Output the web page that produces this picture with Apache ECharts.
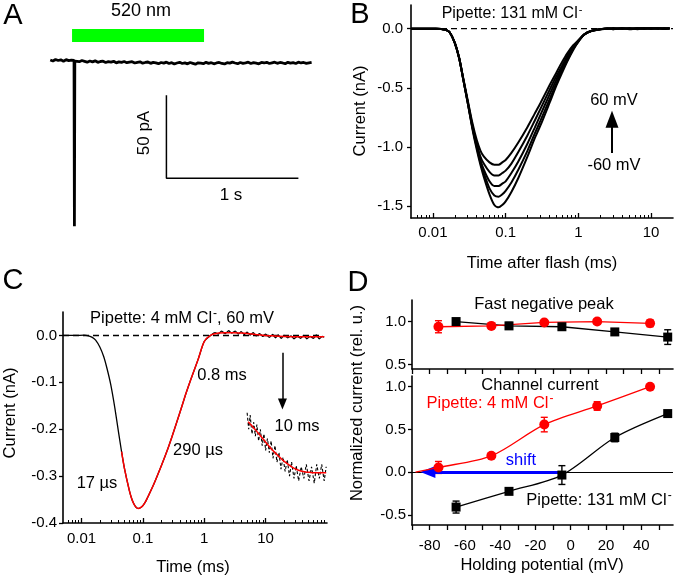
<!DOCTYPE html>
<html><head><meta charset="utf-8">
<script src="https://cdn.jsdelivr.net/npm/echarts@6/dist/echarts.min.js"></script>
<style>html,body{margin:0;padding:0;background:#fff}#c{width:677px;height:577px}</style>
</head><body><div id="c"></div>
<script>
// ---------- Panel A ----------
const aTime = [-0.18,-0.16,-0.14,-0.12,-0.10,-0.08,-0.06,-0.04,-0.02,0,0.003,0.006,
 0.02,0.04,0.06,0.08,0.10,0.12,0.14,0.16,0.18,0.20,
 0.22,0.24,0.26,0.28,0.30,0.32,0.34,0.36,0.38,0.40,
 0.42,0.44,0.46,0.48,0.50,0.52,0.54,0.56,0.58,0.60,
 0.62,0.64,0.66,0.68,0.70,0.72,0.74,0.76,0.78,0.80,
 0.82,0.84,0.86,0.88,0.90,0.92,0.94,0.96,0.98,1.00,
 1.02,1.04,1.06,1.08,1.10,1.12,1.14,1.16,1.18,1.20,
 1.22,1.24,1.26,1.28,1.30,1.32,1.34,1.36,1.38,1.40,
 1.42,1.44,1.46,1.48,1.50,1.52,1.54,1.56,1.58,1.60,
 1.62,1.64,1.66,1.68,1.70,1.72,1.74,1.76,1.78,1.80];
const aCurrent = [1.2,0.6,1.5,0.9,1.3,0.5,1.4,0.8,1.1,1.0,-99,0.5,
 0.8,0.2,0.9,0.4,-0.1,0.6,0.1,0.7,-0.2,0.3,
 0.5,-0.3,0.2,-0.1,0.4,-0.5,0.1,-0.2,0.3,-0.4,
 -0.1,0.2,-0.6,-0.2,0.1,-0.7,-0.3,0.0,-0.8,-0.2,
 -0.5,-1.0,-0.3,-0.7,-0.1,-0.9,-0.4,-1.2,-0.6,-0.2,
 -0.9,-0.5,-1.1,-0.3,-0.8,-1.3,-0.5,-0.7,-1.0,-0.2,
 -0.8,-0.4,-1.1,-0.6,-0.3,-0.9,-1.2,-0.4,-0.7,-0.1,
 -0.6,-1.0,-0.3,-0.8,-0.5,-0.1,-0.9,-0.4,-0.7,-1.1,
 -0.3,-0.6,-0.2,-0.9,-0.5,-0.1,-0.8,-0.3,-0.6,-1.0,
 -0.2,-0.7,-0.4,-0.9,-0.1,-0.6,-0.3,-0.8,-0.5,-0.2];
const aLightTime = [-0.015, 0.985];
const aLightLevel = [16, 16];
const aScaleX = [0.7, 0.7, 1.7];
const aScaleY = [-20, -70, -70];

// ---------- Panel B ----------
const bTime = [0.005,0.008,0.011,0.013,0.015,0.017,0.02,0.023,0.026,0.03,0.035,0.04,0.045,0.05,0.06,0.07,0.08,0.09,0.1,0.12,0.15,0.2,0.25,0.3,0.4,0.5,0.6,0.7,0.85,1.0,1.2,1.5,2,2.5,3,4,5,6.5,8,10,12.5,15,18];
const bTraceP60 = [0,0,0,-0.003,-0.01,-0.03,-0.12,-0.25,-0.41,-0.6,-0.8,-0.94,-1.03,-1.08,-1.13,-1.15,-1.15,-1.13,-1.11,-1.05,-0.96,-0.83,-0.72,-0.63,-0.48,-0.37,-0.28,-0.21,-0.14,-0.1,-0.05,-0.02,-0.005,0.003,-0.004,0.004,-0.002,0.005,-0.003,0.004,0.0,0.005,0.002];
const bTraceP30 = [0,0,0,-0.003,-0.01,-0.03,-0.12,-0.25,-0.42,-0.61,-0.82,-0.97,-1.08,-1.14,-1.21,-1.24,-1.24,-1.22,-1.2,-1.14,-1.04,-0.9,-0.78,-0.68,-0.52,-0.4,-0.31,-0.23,-0.15,-0.1,-0.05,-0.02,-0.005,-0.002,0.004,-0.003,0.005,-0.002,0.004,-0.003,0.005,0.001,0.004];
const bTrace0 = [0,0,0,-0.003,-0.01,-0.03,-0.12,-0.25,-0.42,-0.62,-0.83,-0.99,-1.11,-1.19,-1.29,-1.33,-1.33,-1.31,-1.29,-1.22,-1.12,-0.97,-0.84,-0.73,-0.56,-0.43,-0.33,-0.25,-0.16,-0.1,-0.05,-0.02,-0.005,0.004,-0.003,0.005,-0.004,0.003,0.006,-0.002,0.003,-0.003,0.004];
const bTraceM30 = [0,0,0,-0.003,-0.01,-0.03,-0.12,-0.25,-0.42,-0.62,-0.84,-1.0,-1.13,-1.22,-1.35,-1.41,-1.42,-1.4,-1.37,-1.3,-1.19,-1.03,-0.89,-0.78,-0.6,-0.46,-0.35,-0.27,-0.17,-0.11,-0.05,-0.02,-0.005,-0.003,0.005,-0.002,0.004,-0.004,0.003,0.005,-0.002,0.004,0.0];
const bTraceM60 = [0,0,0,-0.003,-0.01,-0.03,-0.12,-0.25,-0.42,-0.62,-0.85,-1.02,-1.15,-1.25,-1.4,-1.49,-1.51,-1.49,-1.46,-1.38,-1.26,-1.08,-0.93,-0.82,-0.63,-0.48,-0.37,-0.28,-0.18,-0.11,-0.05,-0.02,-0.005,0.002,-0.004,0.004,-0.003,0.005,-0.002,0.003,0.006,-0.002,0.003];
const bXTicks = [0.01, 0.1, 1, 10];
const bXMinor = [0.006,0.007,0.008,0.009,0.02,0.03,0.04,0.05,0.06,0.07,0.08,0.09,0.2,0.3,0.4,0.5,0.6,0.7,0.8,0.9,2,3,4,5,6,7,8,9];
const bYTicks = [-1.5, -1.0, -0.5, 0.0];

// ---------- Panel C ----------
const cTime = [0.005,0.008,0.011,0.013,0.015,0.017,0.02,0.023,0.026,0.03,0.035,0.04,0.045,0.05,0.06,0.065,0.07,0.075,0.08,0.085,0.09,0.1,0.11,0.12,0.15,0.2,0.25,0.3,0.4,0.5,0.6,0.8,1.0,1.3,1.5,1.7,1.9,2.2,2.5,2.8,3.2,3.6,4,4.5,5,5.6,6.3,7,8,9,10,11.5,13,14.5,16,18,20,23,26,29,33,37,42,47,53,60,67,75,84,90];
const cCurrent = [0,0,0.0005,-0.001,-0.004,-0.01,-0.025,-0.045,-0.07,-0.105,-0.155,-0.205,-0.248,-0.283,-0.33,-0.346,-0.357,-0.364,-0.368,-0.369,-0.368,-0.363,-0.355,-0.345,-0.318,-0.278,-0.245,-0.215,-0.165,-0.125,-0.095,-0.05,-0.013,0.001,0.006,0.003,0.009,0.004,0.01,0.005,0.009,0.003,0.008,0.002,0.007,0.001,0.006,-0.001,0.004,-0.002,0.003,-0.004,0.002,-0.005,0.001,-0.006,0.0,-0.005,-0.001,-0.007,-0.002,-0.006,0.0,-0.007,-0.002,-0.006,0.001,-0.007,-0.002,-0.004];
const cFitTime = [0.045,0.05,0.06,0.065,0.07,0.075,0.08,0.085,0.09,0.1,0.11,0.12,0.15,0.2,0.25,0.3,0.4,0.5,0.6,0.8,1.0,1.3,1.7,2.2,3,4,5,7,10,14,20,30,45,65,90];
const cFitCurrent = [-0.248,-0.283,-0.33,-0.346,-0.357,-0.364,-0.368,-0.369,-0.368,-0.363,-0.355,-0.345,-0.318,-0.278,-0.245,-0.215,-0.165,-0.125,-0.095,-0.05,-0.013,0.001,0.005,0.006,0.006,0.005,0.004,0.002,0.0,-0.001,-0.002,-0.003,-0.003,-0.003,-0.003];
const cInsetTime = [5.0,5.3,5.6,6.0,6.4,6.8,7.2,7.7,8.2,8.8,9.4,10,10.7,11.5,12.3,13.2,14.2,15.3,16.5,17.8,19.2,20.8,22.5,24.5,26.5,29,31.5,34.5,38,42,46,51,56,62,68,75,82,90,97];
const cInsetCurrent = [-0.165,-0.2,-0.17,-0.21,-0.185,-0.215,-0.19,-0.225,-0.2,-0.235,-0.21,-0.245,-0.22,-0.25,-0.225,-0.262,-0.235,-0.27,-0.25,-0.285,-0.26,-0.29,-0.265,-0.3,-0.27,-0.305,-0.278,-0.31,-0.28,-0.305,-0.275,-0.31,-0.28,-0.315,-0.275,-0.305,-0.275,-0.31,-0.28];
const cInsetFitTime = [5.2,6,7,8,9.4,11,13,15.6,19,22.8,27,32,37.5,45,52,61,72,85,97];
const cInsetFitCurrent = [-0.184,-0.193,-0.203,-0.212,-0.223,-0.234,-0.245,-0.255,-0.266,-0.274,-0.281,-0.286,-0.289,-0.291,-0.292,-0.293,-0.293,-0.293,-0.293];
const cXTicks = [0.01, 0.1, 1, 10];
const cXMinor = [0.006,0.007,0.008,0.009,0.02,0.03,0.04,0.05,0.06,0.07,0.08,0.09,0.2,0.3,0.4,0.5,0.6,0.7,0.8,0.9,2,3,4,5,6,7,8,9,20,30,40,50,60,70,80,90];
const cYTicks = [-0.4, -0.3, -0.2, -0.1, 0.0];

// ---------- Panel D ----------
const dVRed = [-75, -45, -15, 15, 45];
const dVBlack = [-65, -35, -5, 25, 55];
const dPeakRed = [0.94, 0.95, 0.99, 1.0, 0.98];
const dPeakRedErr = [0.07, 0.02, 0.02, 0.03, 0.04];
const dPeakBlack = [1.0, 0.95, 0.94, 0.88, 0.82];
const dPeakBlackErr = [0.01, 0.04, 0.03, 0.02, 0.085];
const dChanRed = [0.054, 0.19, 0.556, 0.774, 1.0];
const dChanRedErr = [0.07, 0.02, 0.085, 0.05, 0.01];
const dChanBlack = [-0.41, -0.226, -0.035, 0.405, 0.685];
const dChanBlackErr = [0.07, 0.03, 0.11, 0.05, 0.02];
const dXLabels = [-80, -60, -40, -20, 0, 20, 40];
const dXTicks = [-90, -80, -70, -60, -50, -40, -30, -20, -10, 0, 10, 20, 30, 40, 50];
const dTopYTicks = [0.5, 1.0];
const dBotYTicks = [-0.5, 0.0, 0.5, 1.0];

// ---------- helpers ----------
const FONT = '"Liberation Sans", Arial, Helvetica, sans-serif';
const zip = (xs, ys) => xs.map((x, i) => [x, ys[i]]);
const AXL = {color: '#000', width: 1.6};
const fmtLog = v => String(+(+v).toPrecision(6));
const fmt1 = v => (+v).toFixed(1);

function logAxes(grid, min, max, h, ticks, minor) {
  return [
    {type: 'log', gridIndex: grid, min, max, logBase: 10,
     axisLine: {onZero: false, lineStyle: AXL},
     axisTick: {inside: true, length: 5, customValues: ticks, lineStyle: {color: '#000', width: 1.3}},
     axisLabel: {customValues: ticks, margin: 7, color: '#000', fontSize: 15, fontFamily: FONT, formatter: fmtLog},
     splitLine: {show: false}, minorTick: {show: false}},
    {type: 'log', gridIndex: grid, min, max, logBase: 10, position: 'top', offset: -h,
     axisLine: {show: false, onZero: false},
     axisTick: {inside: false, length: 3, customValues: minor, lineStyle: {color: '#000', width: 1}},
     axisLabel: {show: false}, splitLine: {show: false}, minorTick: {show: false}}
  ];
}
function yAxisCfg(grid, min, max, ticks, margin) {
  return {type: 'value', gridIndex: grid, min, max,
    axisLine: {show: true, onZero: false, lineStyle: AXL},
    axisTick: {show: true, length: 4, customValues: ticks, lineStyle: {color: '#000', width: 1.3}},
    axisLabel: {customValues: ticks, margin, color: '#000', fontSize: 15, fontFamily: FONT, formatter: fmt1},
    splitLine: {show: false}};
}
function errSeries(xi, yi, xs, vs, es, color) {
  return {type: 'custom', xAxisIndex: xi, yAxisIndex: yi, silent: true, z: 4,
    data: xs.map((x, i) => [x, vs[i] - es[i], vs[i] + es[i]]),
    encode: {x: 0, y: [1, 2]},
    renderItem: (p, api) => {
      const x = api.value(0);
      const a = api.coord([x, api.value(1)]);
      const b = api.coord([x, api.value(2)]);
      const w = 3.5, st = {stroke: color, lineWidth: 1.4};
      return {type: 'group', children: [
        {type: 'line', shape: {x1: a[0], y1: a[1], x2: b[0], y2: b[1]}, style: st},
        {type: 'line', shape: {x1: a[0] - w, y1: a[1], x2: a[0] + w, y2: a[1]}, style: st},
        {type: 'line', shape: {x1: b[0] - w, y1: b[1], x2: b[0] + w, y2: b[1]}, style: st}]};
    }};
}
function txt(x, y, text, o = {}) {
  const color = o.color || '#000';
  const size = o.size || 16.5;
  const ss = Math.round(size * 0.7);
  return {type: 'text', x, y, rotation: o.rot || 0, silent: true, z: 100,
    style: {text, x: 0, y: 0, fill: color, font: size + 'px ' + FONT,
      align: o.align || 'center', verticalAlign: 'middle',
      rich: {s: {font: ss + 'px ' + FONT, fill: color, padding: [0, 0, Math.round(size * 0.5), 1]}}}};
}

const xA = {type: 'value', gridIndex: 0, min: -0.182, max: 1.803, show: false};
const yA = {type: 'value', gridIndex: 0, min: -100, max: 25, show: false};
const [xB, xBm] = logAxes(1, 0.005, 20, 213, bXTicks, bXMinor);
const [xC, xCm] = logAxes(2, 0.005, 100, 211, cXTicks, cXMinor);
xC.axisLabel.margin = 8;
function dX(grid, labels) {
  return {type: 'value', gridIndex: grid, min: -90, max: 58,
    axisLine: {onZero: false, lineStyle: AXL},
    axisTick: {inside: false, length: 5, customValues: dXTicks, lineStyle: {color: '#000', width: 1.3}},
    axisLabel: labels ? {customValues: dXLabels, margin: 13, color: '#000', fontSize: 15, fontFamily: FONT} : {show: false},
    splitLine: {show: false}};
}

const lineB = d => ({type: 'line', xAxisIndex: 1, yAxisIndex: 1, data: zip(bTime, d), symbol: 'none',
  smooth: 0.25, lineStyle: {color: '#000', width: 2}, z: 3, silent: true});

const option = {
  animation: false,
  grid: [
    {left: 50, top: 20.5, width: 262, height: 207.5, outerBoundsMode: 'none'},
    {left: 411, top: 5, width: 262, height: 213, outerBoundsMode: 'none'},
    {left: 63, top: 312, width: 264, height: 211, outerBoundsMode: 'none'},
    {left: 412, top: 300, width: 261, height: 69, outerBoundsMode: 'none'},
    {left: 412, top: 376, width: 261, height: 149, outerBoundsMode: 'none'}
  ],
  xAxis: [xA, xB, xBm, xC, xCm, dX(3, false), dX(4, true)],
  yAxis: [yA,
    yAxisCfg(1, -1.6, 0.2, bYTicks, 8),
    yAxisCfg(2, -0.4, 0.05, cYTicks, 6),
    yAxisCfg(3, 0.45, 1.25, dTopYTicks, 6),
    yAxisCfg(4, -0.62, 1.125, dBotYTicks, 6)],
  series: [
    // A
    {type: 'line', xAxisIndex: 0, yAxisIndex: 0, data: zip(aTime, aCurrent), symbol: 'none',
     lineStyle: {color: '#000', width: 2.8}, silent: true},
    {type: 'line', xAxisIndex: 0, yAxisIndex: 0, data: zip(aLightTime, aLightLevel), symbol: 'none',
     lineStyle: {color: '#00ff00', width: 13, cap: 'butt'}, silent: true},
    {type: 'line', xAxisIndex: 0, yAxisIndex: 0, data: zip(aScaleX, aScaleY), symbol: 'none',
     lineStyle: {color: '#000', width: 1.5}, silent: true},
    // B
    {type: 'line', xAxisIndex: 1, yAxisIndex: 1, data: [[0.005, 0], [20, 0]], symbol: 'none', silent: true,
     lineStyle: {color: '#000', width: 1.4, type: [6, 4]}, z: 2,
     markLine: {silent: true, symbol: ['none', 'triangle'], symbolSize: [13, 17], label: {show: false},
       lineStyle: {color: '#000', width: 2, type: 'solid'},
       data: [[{coord: [2.9, -1.05]}, {coord: [2.9, -0.765]}]]}},
    lineB(bTraceP60), lineB(bTraceP30), lineB(bTrace0), lineB(bTraceM30), lineB(bTraceM60),
    // C
    {type: 'line', xAxisIndex: 3, yAxisIndex: 2, data: [[0.005, 0], [85, 0]], symbol: 'none', silent: true,
     lineStyle: {color: '#000', width: 1.4, type: [6, 4]}, z: 2,
     markLine: {silent: true, symbol: ['none', 'triangle'], symbolSize: [9, 11], label: {show: false},
       lineStyle: {color: '#000', width: 1.5, type: 'solid'},
       data: [[{coord: [18.8, -0.037]}, {coord: [18.8, -0.146]}]]}},
    {type: 'line', xAxisIndex: 3, yAxisIndex: 2, data: zip(cTime, cCurrent), symbol: 'none', silent: true,
     smooth: 0.2, lineStyle: {color: '#000', width: 1.3}, z: 3},
    {type: 'line', xAxisIndex: 3, yAxisIndex: 2, data: zip(cFitTime, cFitCurrent), symbol: 'none', silent: true,
     smooth: 0.3, lineStyle: {color: '#ff0000', width: 1.5}, z: 4},
    {type: 'line', xAxisIndex: 3, yAxisIndex: 2, data: zip(cInsetTime, cInsetCurrent), symbol: 'none', silent: true,
     lineStyle: {color: '#000', width: 1.1, type: [3, 2]}, z: 3},
    {type: 'line', xAxisIndex: 3, yAxisIndex: 2, data: zip(cInsetFitTime, cInsetFitCurrent), symbol: 'none', silent: true,
     smooth: 0.3, lineStyle: {color: '#ff0000', width: 1.5}, z: 4},
    // D top
    {type: 'line', xAxisIndex: 5, yAxisIndex: 3, data: zip(dVBlack, dPeakBlack), symbol: 'rect', symbolSize: 9,
     itemStyle: {color: '#000'}, lineStyle: {color: '#000', width: 1.3}, z: 5, silent: true},
    {type: 'line', xAxisIndex: 5, yAxisIndex: 3, data: zip(dVRed, dPeakRed), symbol: 'circle', symbolSize: 10,
     itemStyle: {color: '#ff0000'}, lineStyle: {color: '#ff0000', width: 1.3}, z: 5, silent: true},
    errSeries(5, 3, dVBlack, dPeakBlack, dPeakBlackErr, '#000'),
    errSeries(5, 3, dVRed, dPeakRed, dPeakRedErr, '#ff0000'),
    // D bottom
    {type: 'line', xAxisIndex: 6, yAxisIndex: 4, data: zip(dVBlack, dChanBlack), symbol: 'rect', symbolSize: 9,
     smooth: 0.3, itemStyle: {color: '#000'}, lineStyle: {color: '#000', width: 1.3}, z: 6, silent: true,
     markLine: {silent: true, symbol: 'none', label: {show: false}, lineStyle: {color: '#000', width: 1.2, type: 'solid'},
       data: [{yAxis: 0}]}},
    {type: 'line', xAxisIndex: 6, yAxisIndex: 4,
     data: [{value: [-88, 0], symbol: 'none'}].concat(zip(dVRed, dChanRed)), symbol: 'circle', symbolSize: 10,
     smooth: 0.3, itemStyle: {color: '#ff0000'}, lineStyle: {color: '#ff0000', width: 1.3}, z: 5, silent: true},
    {type: 'line', xAxisIndex: 6, yAxisIndex: 4, data: [], symbol: 'none', z: 5, silent: true,
     markLine: {silent: true, symbol: ['none', 'triangle'], symbolSize: [12, 15], label: {show: false},
       lineStyle: {color: '#0000ff', width: 3, type: 'solid'},
       data: [[{coord: [-4, 0]}, {coord: [-81, 0]}]]}},
    errSeries(6, 4, dVBlack, dChanBlack, dChanBlackErr, '#000'),
    errSeries(6, 4, dVRed, dChanRed, dChanRedErr, '#ff0000')
  ],
  graphic: [
    txt(13, 16, 'A', {size: 29}), txt(360, 15, 'B', {size: 29}),
    txt(13, 281, 'C', {size: 29}), txt(358, 283, 'D', {size: 29}),
    txt(141, 11, '520 nm', {size: 18}),
    txt(144, 133, '50 pA', {size: 17, rot: Math.PI / 2}),
    txt(231, 195, '1 s', {size: 17}),
    txt(512, 14, 'Pipette: 131 mM Cl{s|-}', {size: 16}),
    txt(614, 100, '60 mV'), txt(614, 165, '-60 mV'),
    txt(360, 111, 'Current (nA)', {rot: Math.PI / 2}),
    txt(542, 263, 'Time after flash (ms)'),
    txt(182, 318, 'Pipette: 4 mM Cl{s|-}, 60 mV'),
    txt(222, 375, '0.8 ms'), txt(198, 450, '290 µs'), txt(97, 483, '17 µs'), txt(297, 426, '10 ms'),
    txt(10, 413, 'Current (nA)', {rot: Math.PI / 2}),
    txt(193, 567, 'Time (ms)'),
    txt(544, 304, 'Fast negative peak'),
    txt(540, 385, 'Channel current'),
    txt(490, 403, 'Pipette: 4 mM Cl{s|-}', {color: '#ff0000'}),
    txt(521, 460, 'shift', {color: '#0000ff'}),
    txt(599, 500, 'Pipette: 131 mM Cl{s|-}'),
    txt(357, 403, 'Normalized current (rel. u.)', {rot: Math.PI / 2}),
    txt(542, 565, 'Holding potential (mV)')
  ]
};
const chart = echarts.init(document.getElementById('c'));
chart.setOption(option);
</script>
</body></html>
